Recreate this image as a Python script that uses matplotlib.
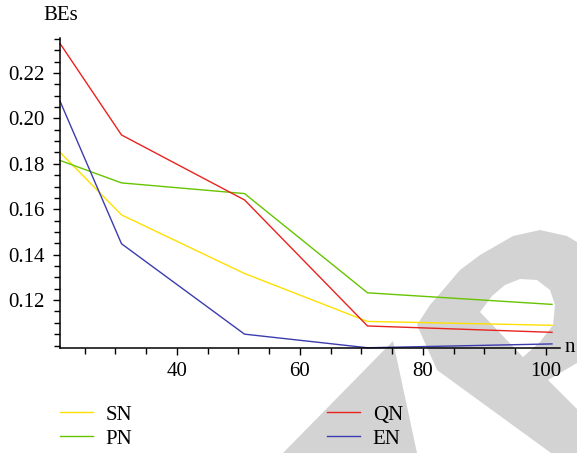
import matplotlib
matplotlib.use('Agg')
import matplotlib.pyplot as plt
from matplotlib.patches import Polygon
from matplotlib.ticker import MultipleLocator, FixedLocator, FormatStrFormatter

# data
n_values = [21, 31, 51, 71, 101]
sn = [0.1851, 0.1575, 0.1317, 0.1106, 0.1089]
pn = [0.1815, 0.1716, 0.1669, 0.1232, 0.1181]
qn = [0.2330, 0.1927, 0.1641, 0.1086, 0.1058]
en = [0.2076, 0.1448, 0.1050, 0.0990, 0.1007]
series_names = ['SN', 'PN', 'QN', 'EN']
series_colors = ['#FFE000', '#66C400', '#E8231E', '#3C3CAF']
y_ticks = [0.12, 0.14, 0.16, 0.18, 0.20, 0.22]

W, H = 577, 453
plt.rcParams['font.family'] = ['Liberation Serif', 'DejaVu Serif']
plt.rcParams['font.size'] = 15

fig = plt.figure(figsize=(W / 100, H / 100), dpi=100)


def px(pts):
    # pixel coords (y down) -> figure fraction
    return [(x / W, 1 - y / H) for x, y in pts]


# watermark shapes behind the chart
wm = '#D3D3D3'
lam = [(283, 453), (393, 341), (417, 453)]
band = [(551, 453), (437, 370), (417, 325), (430, 305), (443, 290), (460, 270),
        (480, 255), (513, 236), (540, 230), (567, 236), (590, 250), (600, 300),
        (590, 340), (577, 363), (548, 380), (621, 453)]
hole = [(480, 312), (492, 296), (505, 285), (520, 279), (537, 280), (550, 290),
        (555, 305), (553, 325), (540, 342), (523, 357)]
fig.patches.append(Polygon(px(lam), closed=True, transform=fig.transFigure,
                           facecolor=wm, edgecolor='none', zorder=-2))
fig.patches.append(Polygon(px(band), closed=True, transform=fig.transFigure,
                           facecolor=wm, edgecolor='none', zorder=-2))
fig.patches.append(Polygon(px(hole), closed=True, transform=fig.transFigure,
                           facecolor='white', edgecolor='none', zorder=-1))

ax = fig.add_axes([60 / W, (H - 348) / H, 500 / W, 310 / H])
ax.patch.set_visible(False)

handles = []
for vals, name, col in zip([sn, pn, qn, en], series_names, series_colors):
    line, = ax.plot(n_values, vals, color=col, linewidth=1.0, label=name, clip_on=False)
    handles.append(line)

ax.set_xlim(21, 102.3)
ax.set_ylim(0.0989, 0.2354)

for s in ['top', 'right']:
    ax.spines[s].set_visible(False)
for s in ['left', 'bottom']:
    ax.spines[s].set_linewidth(1.1)

ax.xaxis.set_major_locator(MultipleLocator(20))
ax.xaxis.set_minor_locator(MultipleLocator(5))
ax.yaxis.set_major_locator(FixedLocator(y_ticks))
ax.yaxis.set_minor_locator(MultipleLocator(0.005))
ax.yaxis.set_major_formatter(FormatStrFormatter('%.2f'))
ax.tick_params(which='major', direction='out', length=5, width=1.0, labelsize=15)
ax.tick_params(which='minor', direction='out', length=4, width=1.0)
ax.tick_params(axis='y', pad=6)
ax.tick_params(axis='x', pad=5)

fig.text(61 / W, 1 - 16 / H, 'BEs', ha='center', va='center', fontsize=15)
fig.text(565 / W, 1 - 347 / H, 'n', ha='left', va='center', fontsize=15)

leg_kw = dict(frameon=False, loc='upper left', borderpad=0, borderaxespad=0,
              handlelength=1.6, handletextpad=0.6, labelspacing=0.22, fontsize=15)
leg1 = fig.legend(handles[:2], series_names[:2],
                  bbox_to_anchor=(60 / W, 1 - 405 / H), **leg_kw)
leg2 = fig.legend(handles[2:], series_names[2:],
                  bbox_to_anchor=(327 / W, 1 - 405 / H), **leg_kw)

fig.savefig('out.png', dpi=100, facecolor='white')
